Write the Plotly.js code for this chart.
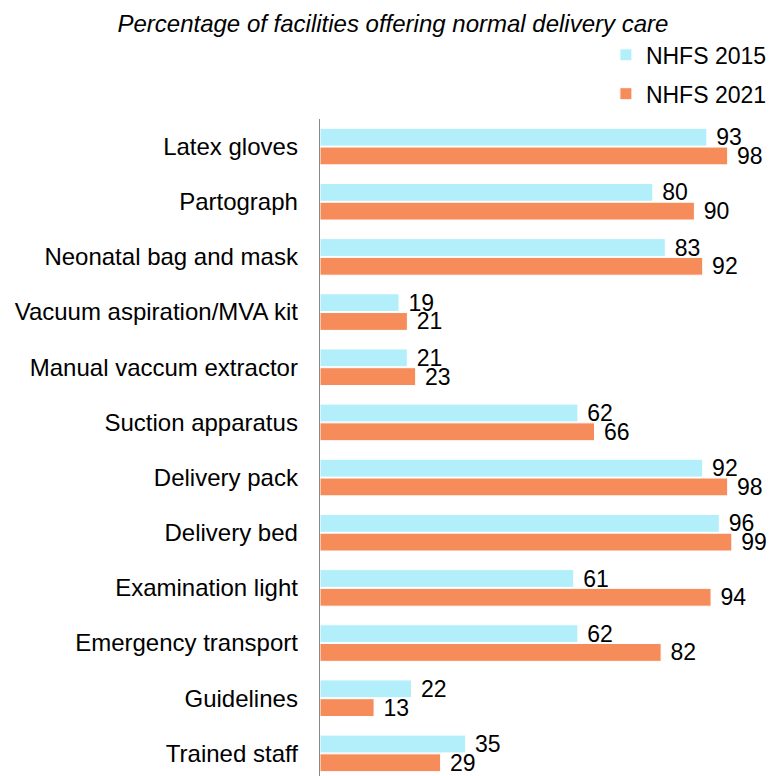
<!DOCTYPE html>
<html>
<head>
<meta charset="utf-8">
<script src="https://cdn.plot.ly/plotly-3.0.1.min.js"></script>
<style>html,body{margin:0;padding:0;background:#fff;}#chart{width:775px;height:776px;}</style>
</head>
<body>
<div id="chart"></div>
<script>
const categories = ["Latex gloves","Partograph","Neonatal bag and mask","Vacuum aspiration/MVA kit","Manual vaccum extractor","Suction apparatus","Delivery pack","Delivery bed","Examination light","Emergency transport","Guidelines","Trained staff"];
const nhfs2015 = [93,80,83,19,21,62,92,96,61,62,22,35];
const nhfs2021 = [98,90,92,21,23,66,98,99,94,82,13,29];
const seriesNames = ["NHFS 2015","NHFS 2021"];
const chartTitle = "Percentage of facilities offering normal delivery care";

const font = "Liberation Sans, Arial, sans-serif";
const lbl = v => '\u00a0' + v;
const traces = [
  {type:'bar', orientation:'h', name:seriesNames[0], y:categories, x:nhfs2015, text:nhfs2015.map(lbl),
   textposition:'outside', cliponaxis:false, constraintext:'none', textfont:{size:23,color:'#000',family:font},
   marker:{color:'#b3effb', line:{color:'#ffffff', width:1}}, legendgroup:'a'},
  {type:'bar', orientation:'h', name:seriesNames[1], y:categories, x:nhfs2021, text:nhfs2021.map(lbl),
   textposition:'outside', cliponaxis:false, constraintext:'none', textfont:{size:23,color:'#000',family:font},
   marker:{color:'#f58c59', line:{color:'#ffffff', width:1}}, legendgroup:'b'}
];
const layout = {
  width:775, height:776,
  margin:{l:320, r:39, t:119, b:0, pad:0, autoexpand:false},
  paper_bgcolor:'#fff', plot_bgcolor:'#fff',
  font:{family:font, color:'#000', size:23},
  title:{text:'<i>'+chartTitle+'</i>', font:{size:24, family:font, color:'#000'}, x:0.507, xanchor:'center', y:0.97, yanchor:'middle', xref:'container', yref:'container'},
  barmode:'group', bargap:0.32, bargroupgap:0.05,
  showlegend:true,
  legend:{x:0.996, xanchor:'right', xref:'container', y:0.957, yanchor:'top', yref:'container', font:{size:23, family:font}, traceorder:'grouped', tracegroupgap:6, bgcolor:'rgba(0,0,0,0)'},
  xaxis:{range:[0,100], showgrid:false, zeroline:false, showticklabels:false, ticks:'', showline:false, fixedrange:true},
  yaxis:{type:'category', range:[11.41,-0.5], showgrid:false, zeroline:false, ticks:'', showline:true, linecolor:'#888', linewidth:1.3,
         tickfont:{size:24, family:font, color:'#000'}, ticklabelstandoff:16, fixedrange:true}
};
Plotly.newPlot('chart', traces, layout, {displayModeBar:false, staticPlot:true});
</script>
</body>
</html>
